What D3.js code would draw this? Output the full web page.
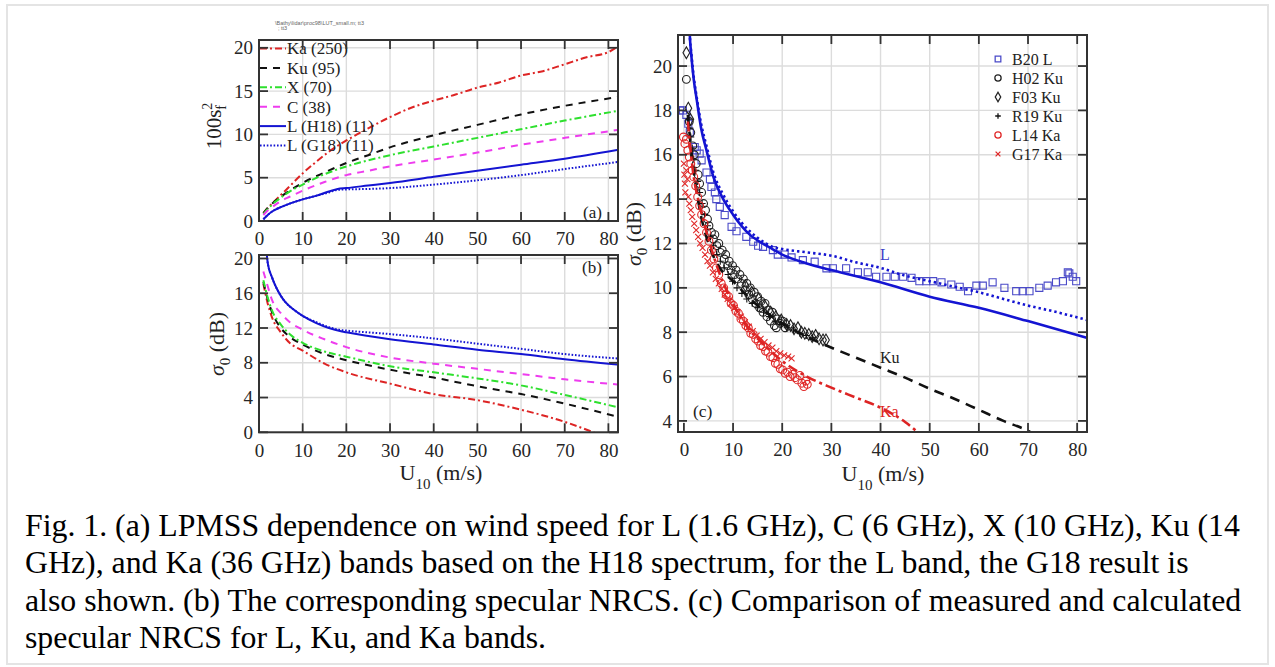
<!DOCTYPE html>
<html>
<head>
<meta charset="utf-8">
<script src="https://cdn.jsdelivr.net/npm/d3@7"></script>
<style>
  body { margin: 0; background: #fff; }
  svg { display: block; font-family: "Liberation Serif", "Times New Roman", serif; }
</style>
</head>
<body>
<svg id="fig" width="1275" height="667"></svg>
<script>
// ---------------- data ----------------
const xTicksAB = [0, 10, 20, 30, 40, 50, 60, 70, 80];
const yTicksA = [0, 5, 10, 15, 20];
const yTicksB = [0, 4, 8, 12, 16, 20];
const xTicksC = [0, 10, 20, 30, 40, 50, 60, 70, 80];
const yTicksC = [4, 6, 8, 10, 12, 14, 16, 18, 20];

const bandNames = ["Ka (250)", "Ku (95)", "X (70)", "C (38)", "L (H18) (11)", "L (G18) (11)"];

// (a) 100 s_f^2 vs U10
const mssKa = [[1,0.9],[2,1.5],[3,2.0],[5,3.0],[7,4.0],[10,5.5],[13,6.8],[16,8.0],[20,9.3],[25,10.7],[30,12.0],[35,13.1],[40,13.9],[45,14.6],[50,15.4],[55,16.0],[60,16.8],[65,17.3],[70,18.1],[75,18.9],[80,19.5],[82,20.1]];
const mssKu = [[1,0.9],[2,1.5],[3,2.0],[5,2.8],[7,3.5],[10,4.4],[15,5.6],[20,6.7],[25,7.6],[30,8.5],[40,9.9],[50,11.1],[60,12.3],[70,13.3],[82,14.3]];
const mssX = [[1,0.8],[2,1.4],[3,1.9],[5,2.7],[7,3.4],[10,4.2],[15,5.4],[20,6.3],[25,7.0],[30,7.6],[40,8.6],[50,9.6],[60,10.6],[70,11.6],[82,12.7]];
const mssC = [[1,0.7],[2,1.2],[3,1.6],[5,2.3],[7,2.8],[10,3.5],[15,4.5],[20,5.3],[25,5.8],[30,6.3],[40,7.1],[50,7.9],[60,8.8],[70,9.6],[82,10.5]];
const mssLH18 = [[1,0.2],[2,0.7],[3,1.1],[5,1.6],[7,2.0],[10,2.5],[13,2.9],[16,3.4],[18,3.7],[20,3.8],[25,4.1],[30,4.4],[40,5.1],[50,5.8],[60,6.5],[70,7.2],[82,8.2]];
const mssLG18 = [[1,0.2],[2,0.7],[3,1.1],[5,1.6],[7,2.0],[10,2.5],[13,2.9],[16,3.3],[18,3.6],[20,3.65],[25,3.7],[30,3.8],[40,4.2],[50,4.7],[60,5.3],[70,6.0],[82,6.8]];

// (b) sigma0 (dB) vs U10
const nrcsKa = [[1,17.1],[2,14.8],[3,13.2],[5,11.5],[7,10.3],[10,9.4],[15,7.9],[20,6.9],[30,5.6],[40,4.4],[50,3.7],[60,2.6],[70,1.2],[77,-0.1],[82,-1.2]];
const nrcsKu = [[1,17.3],[2,15.3],[3,13.8],[5,12.0],[7,11.0],[10,10.1],[15,9.0],[20,8.3],[30,7.2],[40,6.3],[50,5.3],[60,4.4],[70,3.3],[82,1.8]];
const nrcsX = [[1,17.5],[2,15.5],[3,14.0],[5,12.4],[7,11.3],[10,10.3],[15,9.3],[20,8.7],[30,7.6],[40,6.9],[50,6.2],[60,5.4],[70,4.3],[82,2.9]];
const nrcsC = [[1,18.5],[2,16.8],[3,15.2],[5,13.7],[7,12.7],[10,11.8],[15,10.7],[20,9.8],[30,8.6],[40,7.9],[50,7.3],[60,6.7],[70,6.1],[82,5.5]];
const nrcsLH18 = [[1.5,22],[1.8,20.4],[2,19.5],[3,17.8],[4,16.6],[5,15.7],[6,15.0],[8,14.1],[10,13.4],[13,12.6],[16,12.0],[19,11.6],[20,11.5],[30,10.7],[40,10.1],[50,9.5],[60,9.0],[70,8.4],[82,7.8]];
const nrcsLG18 = [[1.5,22],[1.8,20.4],[2,19.5],[3,17.8],[4,16.6],[5,15.7],[6,15.0],[8,14.1],[10,13.4],[13,12.7],[16,12.1],[19,11.75],[20,11.7],[30,11.3],[40,10.8],[50,10.2],[60,9.6],[70,9.0],[82,8.5]];

// (c) calculated curves
const calcLH18 = [[1.1,22],[1.2,21.4],[1.5,20.5],[2,19.4],[2.6,18.5],[3.5,17.2],[4.6,16.2],[6,15.0],[8,14.0],[10,13.3],[13.4,12.4],[16,12.0],[18,11.75],[20,11.5],[25,11.1],[30,10.8],[40,10.25],[50,9.6],[60,9.1],[70,8.5],[82,7.75]];
const calcLG18 = [[1.1,22],[1.2,21.4],[1.5,20.6],[2,19.5],[2.6,18.6],[3.5,17.4],[4.6,16.4],[6,15.2],[8,14.2],[10,13.45],[13.4,12.55],[16,12.1],[18,11.85],[20,11.75],[25,11.6],[30,11.45],[35,11.15],[40,10.9],[45,10.55],[50,10.3],[55,10.05],[60,9.8],[65,9.5],[70,9.2],[75,8.95],[82,8.55]];
const calcKu = [[0.8,17.8],[1,17.3],[2,15.3],[3,13.8],[5,12.0],[7,11.0],[10,10.3],[15,9.2],[20,8.4],[25,7.8],[29,7.4],[35,6.85],[40,6.4],[45,5.95],[50,5.45],[55,5.0],[60,4.5],[65,4.0],[70,3.55],[72,3.3]];
const calcKa = [[0.8,17.5],[1,17.0],[2,15.0],[3,13.9],[4,13.0],[5,12.2],[7,10.8],[10,9.3],[13,8.2],[16,7.5],[20,6.7],[25,6.0],[30,5.5],[35,5.05],[40,4.6],[45,3.95],[47.5,3.5],[48,3.4]];

// (c) measurements
const b20L = [[-0.8,18.0],[-0.2,18.0],[0.5,17.8],[0.9,17.4],[1.2,17.0],[2.2,16.35],[2.6,16.2],[3.2,16.05],[3.6,15.75],[4.6,15.2],[5.3,14.9],[5.6,14.55],[6.3,14.3],[6.6,14.0],[7.3,13.65],[8.3,13.28],[9.7,12.75],[10.7,12.55],[12.7,12.3],[14.1,12.08],[15.1,11.9],[16.1,11.85],[18.1,11.7],[19.1,11.5],[20.5,11.5],[21.9,11.37],[24.2,11.25],[26.6,11.18],[29.0,10.88],[30.3,10.88],[33.0,10.88],[35.4,10.7],[37.4,10.7],[39.1,10.5],[41.2,10.5],[42.9,10.5],[44.6,10.5],[46.3,10.45],[47.9,10.3],[49.3,10.3],[50.7,10.3],[52.4,10.25],[54.4,10.15],[56.1,10.05],[57.8,9.85],[59.5,10.1],[60.8,10.1],[62.8,10.25],[65.2,10.0],[67.6,9.85],[68.9,9.85],[70.3,9.85],[72.3,10.0],[74.0,10.1],[75.7,10.25],[77.1,10.3],[78.1,10.7],[78.4,10.65],[79.1,10.5],[79.8,10.3]];
const h02Ku = [[0.5,19.4],[1.1,17.5],[1.4,17.0],[1.8,16.4],[2.1,16.0],[2.5,15.6],[2.9,15.1],[3.2,14.7],[3.6,14.3],[4.0,13.8],[4.4,13.5],[4.8,13.1],[5.1,12.8],[5.6,12.5],[6.0,12.2],[6.3,12.4],[6.7,11.9],[7.1,12.0],[7.4,11.6],[7.8,11.7],[8.2,11.3],[8.5,11.5],[8.9,11.0],[9.2,11.2],[9.6,10.8],[9.9,11.0],[10.3,10.6],[10.6,10.8],[11.0,10.4],[11.4,10.6],[11.7,10.2],[12.1,10.4],[12.5,9.9],[12.8,10.2],[13.2,9.7],[13.5,10.0],[13.9,9.5],[14.3,9.8],[14.6,9.3],[15.0,9.6],[15.4,9.1],[15.7,9.4],[16.1,8.9],[16.5,9.3],[16.9,8.7],[17.2,9.0],[17.6,8.5],[18.0,8.9],[18.4,8.3],[18.8,8.2],[19.1,8.6],[19.6,8.4],[20.1,8.5],[20.6,8.2]];
const f03Ku = [[0.5,20.6],[0.9,18.1],[1.3,17.6],[12.5,10.1],[13.8,9.8],[15.2,9.5],[16.4,9.2],[17.6,8.9],[18.7,8.7],[19.8,8.55],[20.9,8.35],[21.7,8.3],[22.4,8.15],[23.2,8.2],[23.9,8.0],[24.6,7.95],[25.4,7.9],[26.1,7.8],[26.8,7.85],[27.5,7.7],[28.3,7.65],[28.9,7.65]];
const r19Ku = [[1.0,17.6],[1.2,17.2],[1.4,16.8],[1.7,16.3],[2.0,15.8],[2.4,15.3],[2.8,14.8],[3.2,14.3],[3.7,13.8],[4.2,13.3],[4.8,12.8],[5.4,12.3],[6.0,11.9],[6.7,11.5],[7.4,11.2],[8.2,10.9],[9.0,10.6],[9.9,10.3],[10.8,10.0],[11.8,9.75],[12.8,9.5],[13.9,9.3],[15.0,9.1],[16.2,8.9],[17.4,8.7],[18.6,8.5],[19.8,8.35],[21.0,8.2],[22.3,8.1],[23.6,7.95],[24.9,7.85],[26.2,7.75]];
const l14Ka = [[-0.1,16.8],[0.2,16.5],[0.5,16.7],[0.8,16.2],[1.1,15.9],[1.4,15.6],[1.7,15.3],[2.0,15.0],[2.4,14.6],[2.8,14.1],[3.2,13.7],[3.6,13.3],[4.1,12.9],[4.6,12.5],[5.1,12.1],[5.6,11.7],[6.1,11.3],[6.6,10.9],[7.1,10.6],[7.6,10.2],[8.1,10.0],[8.6,9.7],[9.1,9.6],[9.6,9.3],[10.1,9.2],[10.6,8.95],[11.1,8.85],[11.6,8.6],[12.1,8.5],[12.6,8.3],[13.1,8.2],[13.6,7.95],[14.1,7.9],[14.6,7.7],[15.1,7.6],[15.6,7.4],[16.1,7.35],[16.6,7.15],[17.1,7.1],[17.6,6.9],[18.1,6.85],[18.6,6.6],[19.1,6.55],[19.6,6.35],[20.1,6.3],[20.6,6.15],[21.1,6.2],[21.6,6.0],[22.1,6.1],[22.6,5.95],[23.1,5.85],[23.6,6.05],[24.0,5.7],[24.4,5.55],[24.8,5.8],[25.1,5.65]];
const g17Ka = [[0.0,15.6],[0.1,15.1],[0.2,14.7],[0.3,14.3],[0.5,15.3],[0.7,14.9],[0.9,14.1],[1.1,13.8],[1.4,13.5],[1.7,13.2],[2.1,12.9],[2.5,12.6],[2.9,12.3],[3.3,12.0],[3.8,11.8],[4.3,11.5],[4.8,11.2],[5.3,11.0],[5.9,10.7],[6.5,10.4],[7.1,10.2],[7.7,9.95],[8.3,9.7],[8.9,9.5],[9.5,9.3],[10.2,9.1],[10.9,8.9],[11.6,8.7],[12.4,8.45],[13.2,8.25],[14.0,8.05],[14.8,7.85],[15.6,7.7],[16.4,7.55],[17.2,7.4],[18.0,7.3],[18.8,7.15],[19.6,7.05],[20.4,6.95],[21.2,6.9],[21.9,6.82]];

const captionLines = [
  "Fig. 1. (a) LPMSS dependence on wind speed for L (1.6 GHz), C (6 GHz), X (10 GHz), Ku (14",
  "GHz), and Ka (36 GHz) bands based on the H18 spectrum, for the L band, the G18 result is",
  "also shown. (b) The corresponding specular NRCS. (c) Comparison of measured and calculated",
  "specular NRCS for L, Ku, and Ka bands."
];

// ---------------- styles ----------------
const RED = "#dd2424", BLACK = "#111", GREEN = "#2ee02e", MAGENTA = "#ee3cee", BLUE = "#1414d2";
const styleKa = { color: RED, dash: "7,3,2,3" };
const styleKu = { color: BLACK, dash: "7,6" };
const styleX = { color: GREEN, dash: "7,3,2,3" };
const styleC = { color: MAGENTA, dash: "7,6" };
const styleLH = { color: BLUE, dash: null };
const styleLG = { color: BLUE, dash: "1.6,1.8" };

const serif = "Liberation Serif, Times New Roman, serif";
const svg = d3.select("#fig");

// outer frame
svg.append("rect")
  .attr("x", 7).attr("y", 5).attr("width", 1261).attr("height", 659)
  .attr("fill", "none").attr("stroke", "#e4e4e4").attr("stroke-width", 2);

// tiny file path text
svg.append("text").attr("x", 275).attr("y", 25).attr("font-family", "Liberation Sans, Arial, sans-serif")
  .attr("font-size", 5.5).attr("fill", "#666").text("\\Bathy\\lidar\\proc98\\LUT_small.m;  tt3");
svg.append("text").attr("x", 278).attr("y", 30).attr("font-family", "Liberation Sans, Arial, sans-serif")
  .attr("font-size", 5.5).attr("fill", "#666").text(";  tt3");

function makePanel(id, box, xDom, yDom, xTicks, yTicks) {
  const x = d3.scaleLinear().domain(xDom).range([box.left, box.right]);
  const y = d3.scaleLinear().domain(yDom).range([box.bottom, box.top]);
  const grid = svg.append("g");
  grid.selectAll(".gx").data(xTicks).join("line")
    .attr("x1", d => x(d)).attr("x2", d => x(d))
    .attr("y1", box.top).attr("y2", box.bottom)
    .attr("stroke", "#dcdcdc").attr("stroke-width", 1.4);
  grid.selectAll(".gy").data(yTicks).join("line")
    .attr("y1", d => y(d)).attr("y2", d => y(d))
    .attr("x1", box.left).attr("x2", box.right)
    .attr("stroke", "#dcdcdc").attr("stroke-width", 1.4);
  svg.append("clipPath").attr("id", id).append("rect")
    .attr("x", box.left).attr("y", box.top)
    .attr("width", box.right - box.left).attr("height", box.bottom - box.top);
  const plot = svg.append("g").attr("clip-path", `url(#${id})`);
  return { x, y, plot, box, xTicks, yTicks };
}

function finishPanel(p) {
  const { x, y, box, xTicks, yTicks } = p;
  const g = svg.append("g");
  const tl = 9;
  const tick = (x1, y1, x2, y2) => g.append("line")
    .attr("x1", x1).attr("y1", y1).attr("x2", x2).attr("y2", y2)
    .attr("stroke", "#333").attr("stroke-width", 1.8);
  xTicks.forEach(t => {
    tick(x(t), box.bottom, x(t), box.bottom - tl);
    tick(x(t), box.top, x(t), box.top + tl);
  });
  yTicks.forEach(t => {
    tick(box.left, y(t), box.left + tl, y(t));
    tick(box.right, y(t), box.right - tl, y(t));
  });
  g.append("rect")
    .attr("x", box.left).attr("y", box.top)
    .attr("width", box.right - box.left).attr("height", box.bottom - box.top)
    .attr("fill", "none").attr("stroke", "#333").attr("stroke-width", 2);

  g.append("g").attr("transform", `translate(0,${box.bottom})`)
    .call(d3.axisBottom(x).tickValues(xTicks).tickSize(0).tickPadding(11))
    .call(a => a.select(".domain").remove())
    .attr("font-family", serif).attr("font-size", 19)
    .selectAll("text").attr("fill", "#262626");
  g.append("g").attr("transform", `translate(${box.left},0)`)
    .call(d3.axisLeft(y).tickValues(yTicks).tickSize(0).tickPadding(6))
    .call(a => a.select(".domain").remove())
    .attr("font-family", serif).attr("font-size", 19)
    .selectAll("text").attr("fill", "#262626");
}

function drawCurve(p, data, st, width) {
  p.plot.append("path")
    .datum(data)
    .attr("fill", "none")
    .attr("stroke", st.color)
    .attr("stroke-width", width)
    .attr("stroke-dasharray", st.dash)
    .attr("d", d3.line().x(d => p.x(d[0])).y(d => p.y(d[1])).curve(d3.curveMonotoneX));
}

// ---------------- panel (a) ----------------
const pa = makePanel("clipA", { left: 259, right: 618, top: 40, bottom: 221 }, [0, 82.2], [0, 20.9], xTicksAB, yTicksA);
const seriesA = [[mssKa, styleKa], [mssKu, styleKu], [mssX, styleX], [mssC, styleC], [mssLH18, styleLH], [mssLG18, styleLG]];
seriesA.forEach(([d, s]) => drawCurve(pa, d, s, 2));

// legend (a)
const legA = svg.append("g");
seriesA.forEach(([d, s], i) => {
  const yy = 48.5 + i * 19.4;
  legA.append("line").attr("x1", 260).attr("x2", 286).attr("y1", yy).attr("y2", yy)
    .attr("stroke", s.color).attr("stroke-width", 2).attr("stroke-dasharray", s.dash);
  legA.append("text").attr("x", 287).attr("y", yy + 5.8)
    .attr("font-size", 17).attr("fill", "#222").text(bandNames[i]);
});
finishPanel(pa);
svg.append("text").attr("x", 583).attr("y", 218).attr("font-size", 17).attr("fill", "#222").text("(a)");

// y label (a)
const ya = svg.append("text").attr("transform", "translate(221,126) rotate(-90)")
  .attr("text-anchor", "middle").attr("font-size", 21).attr("fill", "#222");
ya.append("tspan").text("100s");
ya.append("tspan").attr("font-size", 14).attr("dy", -9).text("2");
ya.append("tspan").attr("font-size", 14).attr("dx", -7).attr("dy", 14).text("f");

// ---------------- panel (b) ----------------
const pb = makePanel("clipB", { left: 259, right: 618, top: 255, bottom: 432.3 }, [0, 82.2], [0, 20.4], xTicksAB, yTicksB);
[[nrcsKa, styleKa], [nrcsKu, styleKu], [nrcsX, styleX], [nrcsC, styleC], [nrcsLH18, styleLH], [nrcsLG18, styleLG]]
  .forEach(([d, s]) => drawCurve(pb, d, s, 2));
finishPanel(pb);
svg.append("text").attr("x", 582).attr("y", 273).attr("font-size", 17).attr("fill", "#222").text("(b)");

function sigmaLabel(tx, ty) {
  const t = svg.append("text").attr("transform", `translate(${tx},${ty}) rotate(-90)`)
    .attr("text-anchor", "middle").attr("font-size", 22).attr("fill", "#222");
  t.append("tspan").attr("font-style", "italic").text("σ");
  t.append("tspan").attr("font-size", 15).attr("dy", 6).text("0");
  t.append("tspan").attr("dy", -6).text(" (dB)");
}
function windLabel(cx, by) {
  const t = svg.append("text").attr("x", cx).attr("y", by)
    .attr("text-anchor", "middle").attr("font-size", 22).attr("fill", "#222");
  t.append("tspan").text("U");
  t.append("tspan").attr("font-size", 15).attr("dy", 9).text("10");
  t.append("tspan").attr("dy", -9).text(" (m/s)");
}
sigmaLabel(224, 344);
windLabel(441, 480);

// ---------------- panel (c) ----------------
const pc = makePanel("clipC", { left: 678, right: 1087, top: 35, bottom: 432 }, [-1.2, 82], [3.5, 21.4], xTicksC, yTicksC);

const markerPath = {
  square: d3.symbol(d3.symbolSquare, 50)(),
  circle: d3.symbol(d3.symbolCircle, 48)(),
  diamond: d3.symbol(d3.symbolDiamond, 40)(),
  plus: "M-3.5,0H3.5M0,-3.5V3.5",
  cross: "M-3,-3L3,3M-3,3L3,-3"
};
const measSets = [
  { name: "B20 L", data: b20L, shape: "square", color: "#4a4ac8" },
  { name: "H02 Ku", data: h02Ku, shape: "circle", color: "#222" },
  { name: "F03 Ku", data: f03Ku, shape: "diamond", color: "#222" },
  { name: "R19 Ku", data: r19Ku, shape: "plus", color: "#111" },
  { name: "L14 Ka", data: l14Ka, shape: "circle", color: "#e02828" },
  { name: "G17 Ka", data: g17Ka, shape: "cross", color: "#e02828" }
];

// measurements under the curves
measSets.forEach(m => {
  pc.plot.append("g").selectAll("path").data(m.data).join("path")
    .attr("transform", d => `translate(${pc.x(d[0])},${pc.y(d[1])})`)
    .attr("d", markerPath[m.shape])
    .attr("fill", "none").attr("stroke", m.color).attr("stroke-width", 1.1);
});

drawCurve(pc, calcLG18, { color: BLUE, dash: "2.4,3" }, 2.6);
drawCurve(pc, calcLH18, styleLH, 2.6);
drawCurve(pc, calcKu, { color: BLACK, dash: "10,7" }, 2.6);
drawCurve(pc, calcKa, { color: RED, dash: "10,4,3,4" }, 2.6);

// legend (c)
measSets.forEach((m, i) => {
  const yy = 59 + i * 19;
  svg.append("path").attr("transform", `translate(998,${yy}) scale(0.8)`)
    .attr("d", markerPath[m.shape]).attr("fill", "none")
    .attr("stroke", m.color).attr("stroke-width", 1.6);
  svg.append("text").attr("x", 1012).attr("y", yy + 5.5)
    .attr("font-size", 16).attr("fill", "#222").text(m.name);
});

finishPanel(pc);
svg.append("text").attr("x", 880).attr("y", 260).attr("font-size", 16).attr("fill", "#3c3cc8").text("L");
svg.append("text").attr("x", 880).attr("y", 363).attr("font-size", 16).attr("fill", "#222").text("Ku");
svg.append("text").attr("x", 880).attr("y", 417).attr("font-size", 16).attr("fill", "#dd2424").text("Ka");
svg.append("text").attr("x", 693).attr("y", 417).attr("font-size", 17.5).attr("fill", "#222").text("(c)");
sigmaLabel(641, 234);
windLabel(883, 481);

// ---------------- caption ----------------
svg.append("g").selectAll("text").data(captionLines).join("text")
  .attr("x", 25).attr("y", (d, i) => 536 + i * 37.3)
  .attr("font-size", 31.8).attr("fill", "#000")
  .text(d => d);
</script>
</body>
</html>
